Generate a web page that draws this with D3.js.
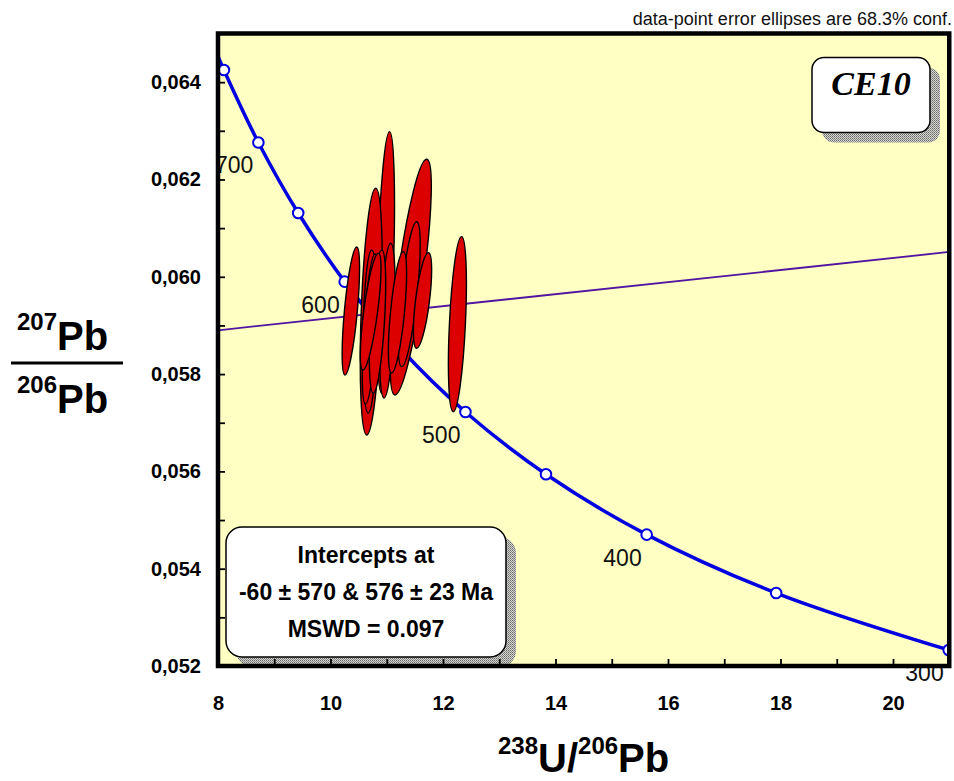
<!DOCTYPE html>
<html>
<head>
<meta charset="utf-8">
<script src="https://cdnjs.cloudflare.com/ajax/libs/d3/7.8.5/d3.min.js"></script>
<style>
  body { margin: 0; background: #fff; }
  svg { display: block; font-family: "Liberation Sans", Arial, sans-serif; }
</style>
</head>
<body>
<div id="chart"></div>
<script>
var svgWidth = 954;
var svgHeight = 781;

var margin = {
  top: 33.5,
  right: 4.75,
  bottom: 115,
  left: 218
};

var width = svgWidth - margin.left - margin.right;
var height = svgHeight - margin.top - margin.bottom;

// concordia reference points, ages in Ma
var concordiaAge = [750, 700, 650, 600, 550, 500, 450, 400, 350, 300];
var concordiaX = [8.105, 8.718, 9.426, 10.252, 11.228, 12.399, 13.831, 15.621, 17.923, 20.990];
var concordiaY = [0.06425, 0.06276, 0.06131, 0.05990, 0.05854, 0.05722, 0.05594, 0.05470, 0.05350, 0.05233];
var labelledAges = [700, 600, 500, 400, 300];
// where the curve leaves the top-left of the plot (about 760 Ma)
var concordiaEdgeX = 7.99;
var concordiaEdgeY = 0.06456;

// regression (discordia) line
var discordiaX = [8, 21];
var discordiaY = [0.05890, 0.06051];

// spot analyses: 238U/206Pb, 207Pb/206Pb, their errors and error correlation
var spotX   = [10.980, 10.724, 11.428, 10.702, 11.011, 10.707, 11.399, 10.836, 11.191, 10.714, 11.636, 12.256, 10.362];
var spotY   = [0.060294, 0.059284, 0.059993, 0.058876, 0.059099, 0.058927, 0.059642, 0.059081, 0.059269, 0.059284, 0.059513, 0.059026, 0.059297];
var spotSx  = [0.158, 0.195, 0.364, 0.128, 0.138, 0.143, 0.195, 0.145, 0.162, 0.184, 0.162, 0.160, 0.155];
var spotSy  = [0.002689, 0.002535, 0.002422, 0.001675, 0.00159, 0.00154, 0.00149, 0.00147, 0.001247, 0.0012, 0.000983, 0.001799, 0.001316];
var spotRho = [0.44, 0.41, 0.77, 0.24, 0.43, 0.59, 0.68, 0.52, 0.64, 0.74, 0.64, 0.46, 0.67];

// axis ticks
var xDomain = [8, 21];
var yDomain = [0.052, 0.065];
var xTickLabels = [8, 10, 12, 14, 16, 18, 20];
var xTickMarks = [9, 10, 11, 12, 13, 14, 15, 16, 17, 18, 19, 20];
var yTickLabels = [0.052, 0.054, 0.056, 0.058, 0.060, 0.062, 0.064];
var yTickMarks = [0.053, 0.054, 0.055, 0.056, 0.057, 0.058, 0.059, 0.060, 0.061, 0.062, 0.063, 0.064];

var commaFormat = d3.formatLocale({ decimal: ",", thousands: ".", grouping: [3], currency: ["", ""] }).format(".3f");

var svg = d3.select("#chart")
  .append("svg")
  .attr("width", svgWidth)
  .attr("height", svgHeight);

// halftone pattern for the box shadows
var defs = svg.append("defs");
var pat = defs.append("pattern")
  .attr("id", "halftone")
  .attr("width", 2)
  .attr("height", 2)
  .attr("patternUnits", "userSpaceOnUse");
pat.append("rect").attr("width", 2).attr("height", 2).attr("fill", "#d6d6d0");
pat.append("rect").attr("width", 1).attr("height", 1).attr("fill", "#6a6a6a");
pat.append("rect").attr("x", 1).attr("y", 1).attr("width", 1).attr("height", 1).attr("fill", "#8a8a8a");

defs.append("clipPath")
  .attr("id", "plotClip")
  .append("rect")
  .attr("width", width)
  .attr("height", height);

var chartGroup = svg.append("g")
  .attr("transform", `translate(${margin.left}, ${margin.top})`);

var x = d3.scaleLinear().domain(xDomain).range([0, width]);
var y = d3.scaleLinear().domain(yDomain).range([height, 0]);

// plot background
chartGroup.append("rect")
  .attr("width", width)
  .attr("height", height)
  .attr("fill", "#ffffc4");

// age labels on the concordia (not clipped, the 300 one hangs below the axis)
chartGroup.selectAll(".ageLabel")
  .data(labelledAges)
  .enter()
  .append("text")
  .classed("ageLabel", true)
  .attr("x", d => x(concordiaX[concordiaAge.indexOf(d)]) - 5)
  .attr("y", d => y(concordiaY[concordiaAge.indexOf(d)]) + 31)
  .attr("text-anchor", "end")
  .attr("font-size", 23)
  .attr("fill", "#111")
  .text(d => d);

var plot = chartGroup.append("g").attr("clip-path", "url(#plotClip)");

// discordia
plot.append("line")
  .attr("x1", x(discordiaX[0]))
  .attr("y1", y(discordiaY[0]))
  .attr("x2", x(discordiaX[1]))
  .attr("y2", y(discordiaY[1]))
  .attr("stroke", "#5014a0")
  .attr("stroke-width", 1.8);

// concordia curve
var curvePts = [[concordiaEdgeX, concordiaEdgeY]].concat(concordiaX.map((d, i) => [d, concordiaY[i]]));
plot.append("path")
  .datum(curvePts)
  .attr("fill", "none")
  .attr("stroke", "#0000e0")
  .attr("stroke-width", 3.5)
  .attr("d", d3.line().x(d => x(d[0])).y(d => y(d[1])).curve(d3.curveCatmullRom));

// concordia age markers
plot.selectAll(".ageDot")
  .data(concordiaAge)
  .enter()
  .append("circle")
  .classed("ageDot", true)
  .attr("cx", (d, i) => x(concordiaX[i]))
  .attr("cy", (d, i) => y(concordiaY[i]))
  .attr("r", 5.3)
  .attr("fill", "#fff")
  .attr("stroke", "#0000e0")
  .attr("stroke-width", 2);

// error ellipses from errors + correlation, in pixel space
function ellipseShape(i) {
  var hx = x(spotX[i] + spotSx[i]) - x(spotX[i]);
  var hy = y(spotY[i]) - y(spotY[i] + spotSy[i]);
  var sxx = hx * hx;
  var syy = hy * hy;
  var sxy = -spotRho[i] * hx * hy;
  var phi = 0.5 * Math.atan2(2 * sxy, sxx - syy);
  var m = (sxx + syy) / 2;
  var dd = Math.sqrt(Math.pow((sxx - syy) / 2, 2) + sxy * sxy);
  return {
    cx: x(spotX[i]),
    cy: y(spotY[i]),
    rx: Math.sqrt(m + dd),
    ry: Math.sqrt(Math.max(m - dd, 0)),
    angle: phi * 180 / Math.PI
  };
}

var shapes = spotX.map((d, i) => ellipseShape(i));

plot.selectAll(".spot")
  .data(shapes)
  .enter()
  .append("ellipse")
  .classed("spot", true)
  .attr("cx", d => d.cx)
  .attr("cy", d => d.cy)
  .attr("rx", d => d.rx)
  .attr("ry", d => d.ry)
  .attr("transform", d => `rotate(${d.angle}, ${d.cx}, ${d.cy})`)
  .attr("fill", "#dd0000")
  .attr("stroke", "#000")
  .attr("stroke-width", 1.4);

// label boxes with shadow
function roundBox(x0, y0, w, h, r) {
  svg.append("rect")
    .attr("x", x0 + 10).attr("y", y0 + 10)
    .attr("width", w).attr("height", h)
    .attr("rx", r).attr("ry", r)
    .attr("fill", "url(#halftone)");
  svg.append("rect")
    .attr("x", x0).attr("y", y0)
    .attr("width", w).attr("height", h)
    .attr("rx", r).attr("ry", r)
    .attr("fill", "#fff")
    .attr("stroke", "#000")
    .attr("stroke-width", 1.5);
}

roundBox(812, 57.5, 118, 75, 12);
svg.append("text")
  .attr("x", 871)
  .attr("y", 95)
  .attr("text-anchor", "middle")
  .attr("font-family", "'Liberation Serif', 'Times New Roman', serif")
  .attr("font-weight", "bold")
  .attr("font-style", "italic")
  .attr("font-size", 34)
  .text("CE10");

roundBox(226, 527, 280, 130, 16);
var boxLines = ["Intercepts at", "-60 \u00b1 570 & 576 \u00b1 23 Ma", "MSWD = 0.097"];
svg.selectAll(".boxText")
  .data(boxLines)
  .enter()
  .append("text")
  .classed("boxText", true)
  .attr("x", 366)
  .attr("y", (d, i) => 563 + i * 37)
  .attr("text-anchor", "middle")
  .attr("font-weight", "bold")
  .attr("font-size", 23)
  .text(d => d);

// inward tick marks
var tickLayer = svg.append("g")
  .attr("transform", `translate(${margin.left}, ${margin.top})`);

tickLayer.append("g")
  .attr("transform", `translate(0, ${height})`)
  .call(d3.axisBottom(x).tickValues(xTickMarks).tickSize(-7).tickSizeOuter(0).tickFormat(""))
  .call(g => g.select(".domain").remove())
  .call(g => g.selectAll("line").attr("stroke-width", 1.8));

tickLayer.append("g")
  .call(d3.axisLeft(y).tickValues(yTickMarks).tickSize(-7).tickSizeOuter(0).tickFormat(""))
  .call(g => g.select(".domain").remove())
  .call(g => g.selectAll("line").attr("stroke-width", 1.8));

// tick labels
tickLayer.append("g")
  .attr("transform", `translate(0, ${height})`)
  .call(d3.axisBottom(x).tickValues(xTickLabels).tickSize(0).tickPadding(30).tickFormat(d3.format("d")))
  .call(g => g.select(".domain").remove())
  .attr("font-family", "'Liberation Sans', Arial, sans-serif")
  .attr("font-size", 20)
  .attr("font-weight", "bold");

tickLayer.append("g")
  .call(d3.axisLeft(y).tickValues(yTickLabels).tickSize(0).tickPadding(17).tickFormat(commaFormat))
  .call(g => g.select(".domain").remove())
  .attr("font-family", "'Liberation Sans', Arial, sans-serif")
  .attr("font-size", 20)
  .attr("font-weight", "bold");

// frame
tickLayer.append("rect")
  .attr("width", width)
  .attr("height", height)
  .attr("fill", "none")
  .attr("stroke", "#000")
  .attr("stroke-width", 4.5);

// title note
svg.append("text")
  .attr("x", 952)
  .attr("y", 25)
  .attr("text-anchor", "end")
  .attr("font-size", 18)
  .attr("fill", "#111")
  .text("data-point error ellipses are 68.3% conf.");

// x axis title
var xTitle = svg.append("text")
  .attr("x", margin.left + width / 2)
  .attr("y", 772)
  .attr("text-anchor", "middle")
  .attr("font-weight", "bold");
xTitle.append("tspan").attr("font-size", 24).attr("dy", -18).text("238");
xTitle.append("tspan").attr("font-size", 40).attr("dy", 18).text("U/");
xTitle.append("tspan").attr("font-size", 24).attr("dy", -18).text("206");
xTitle.append("tspan").attr("font-size", 40).attr("dy", 18).text("Pb");

// y axis title as a fraction
[["207", 350], ["206", 413]].forEach(function (p) {
  var t = svg.append("text")
    .attr("x", 17)
    .attr("y", p[1])
    .attr("font-weight", "bold");
  t.append("tspan").attr("font-size", 24).attr("dy", -20).text(p[0]);
  t.append("tspan").attr("font-size", 40).attr("dy", 20).text("Pb");
});
svg.append("line")
  .attr("x1", 11)
  .attr("x2", 123)
  .attr("y1", 363)
  .attr("y2", 363)
  .attr("stroke", "#000")
  .attr("stroke-width", 3);
</script>
</body>
</html>
